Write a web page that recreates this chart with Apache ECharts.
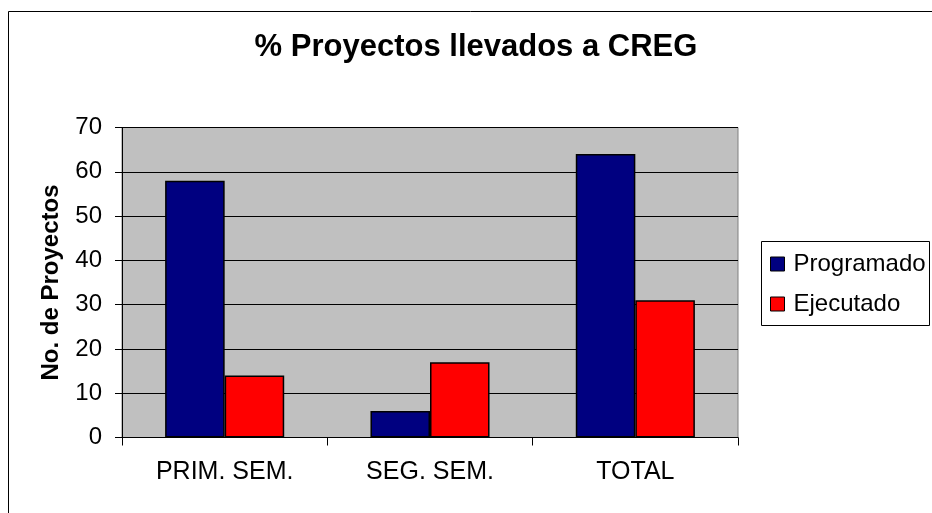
<!DOCTYPE html>
<html>
<head>
<meta charset="utf-8">
<script src="https://cdn.jsdelivr.net/npm/echarts@6/dist/echarts.min.js"></script>
<style>
  html, body { margin: 0; padding: 0; background: #fff; }
  #main { width: 932px; height: 513px; }
</style>
</head>
<body>
<div id="main"></div>
<script>
  var categories = ['PRIM. SEM.', 'SEG. SEM.', 'TOTAL'];
  var programado = [58, 6, 64];
  var ejecutado = [14, 17, 31];
  var yTicks = [0, 10, 20, 30, 40, 50, 60, 70];

  var myChart = echarts.init(document.getElementById('main'));
  var font = 'Liberation Sans, Arial, sans-serif';

  myChart.setOption({
    animation: false,
    title: {
      text: '% Proyectos llevados a CREG',
      left: 471,
      top: 27,
      textAlign: 'center',
      textStyle: { fontSize: 31, fontWeight: 'bold', color: '#000', fontFamily: font }
    },
    graphic: [
      { // outer chart border, runs off the page to the right and bottom
        type: 'rect',
        shape: { x: 8.5, y: 11.5, width: 1000, height: 600 },
        style: { fill: null, stroke: '#000', lineWidth: 1 },
        z: -10
      },
      { // legend box
        type: 'rect',
        shape: { x: 761.5, y: 241.5, width: 168, height: 84 },
        style: { fill: '#fff', stroke: '#000', lineWidth: 1 },
        z: 1
      }
    ],
    legend: {
      orient: 'vertical',
      left: 765,
      top: 247,
      icon: 'rect',
      itemWidth: 14,
      itemHeight: 14,
      itemGap: 16,
      itemStyle: { borderColor: '#000', borderWidth: 1 },
      textStyle: { fontSize: 24, color: '#000', fontFamily: font, padding: [0, 0, 0, 4] },
      data: ['Programado', 'Ejecutado'],
      z: 5
    },
    grid: {
      left: 122,
      top: 127.5,
      right: 194,
      bottom: 75.5,
      show: true,
      backgroundColor: '#c0c0c0',
      borderColor: '#808080',
      borderWidth: 1
    },
    xAxis: {
      type: 'category',
      data: categories,
      axisLine: { lineStyle: { color: '#000', width: 1 } },
      axisTick: { show: true, length: 8, lineStyle: { color: '#000' } },
      axisLabel: { fontSize: 25, color: '#000', fontFamily: font, margin: 22 }
    },
    yAxis: {
      type: 'value',
      min: 0,
      max: 70,
      interval: 10,
      name: 'No. de Proyectos',
      nameLocation: 'middle',
      nameGap: 59,
      nameTextStyle: { fontSize: 24, fontWeight: 'bold', color: '#000', fontFamily: font },
      axisLine: { show: true, lineStyle: { color: '#000', width: 1 } },
      axisTick: { show: true, length: 7, lineStyle: { color: '#000' } },
      axisLabel: {
        fontSize: 24, color: '#000', fontFamily: font, margin: 20,
        formatter: function (v) { return yTicks.indexOf(v) >= 0 ? String(v) : ''; }
      },
      splitLine: { show: true, lineStyle: { color: '#000', width: 1 } }
    },
    series: [
      {
        name: 'Programado',
        type: 'bar',
        data: programado,
        barGap: '0%',
        barCategoryGap: '42%',
        itemStyle: { color: '#000080', borderColor: '#000', borderWidth: 1.5 }
      },
      {
        name: 'Ejecutado',
        type: 'bar',
        data: ejecutado,
        barGap: '0%',
        barCategoryGap: '42%',
        itemStyle: { color: '#ff0000', borderColor: '#000', borderWidth: 1.5 }
      }
    ]
  });
</script>
</body>
</html>
